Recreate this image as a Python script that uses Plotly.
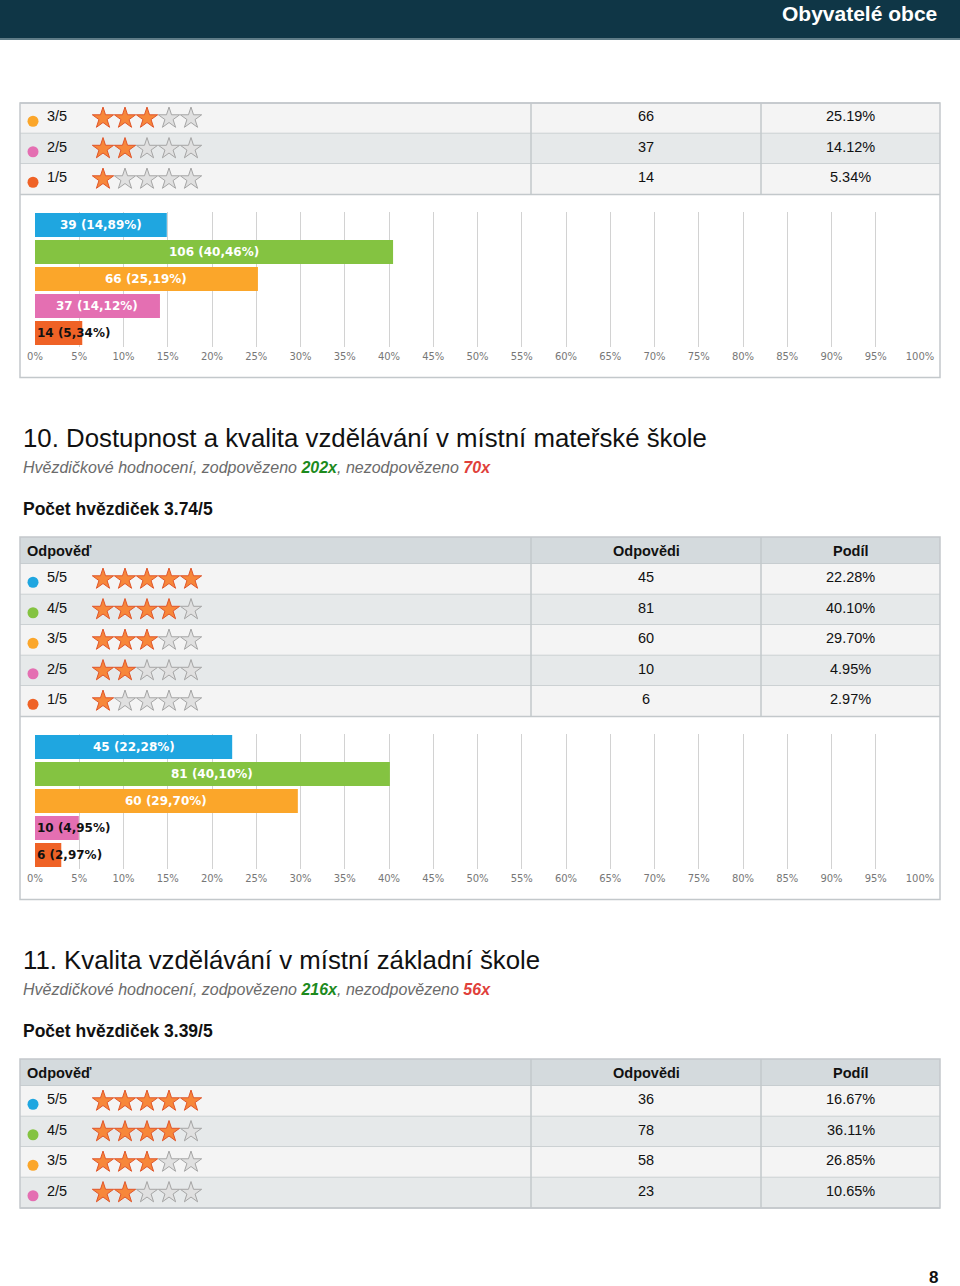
import plotly.graph_objects as go

W, H = 960, 1286

# ---------------- data ----------------
HEADER_TITLE = "Obyvatelé obce"
PAGE_NO = "8"
COL_HEADERS = ["Odpověď", "Odpovědi", "Podíl"]

# question 9 (continuation from previous page)
q9_labels = ["3/5", "2/5", "1/5"]
q9_stars = [3, 2, 1]
q9_counts = [66, 37, 14]
q9_share = ["25.19%", "14.12%", "5.34%"]
q9_bar_ratings = [5, 4, 3, 2, 1]
q9_bar_counts = [39, 106, 66, 37, 14]
q9_bar_pct = [14.89, 40.46, 25.19, 14.12, 5.34]

# question 10
q10_title = "10. Dostupnost a kvalita vzdělávání v místní mateřské škole"
q10_answered = 202
q10_unanswered = 70
q10_avg = "3.74/5"
q10_labels = ["5/5", "4/5", "3/5", "2/5", "1/5"]
q10_stars = [5, 4, 3, 2, 1]
q10_counts = [45, 81, 60, 10, 6]
q10_share = ["22.28%", "40.10%", "29.70%", "4.95%", "2.97%"]
q10_pct = [22.28, 40.10, 29.70, 4.95, 2.97]

# question 11 (continues on next page)
q11_title = "11. Kvalita vzdělávání v místní základní škole"
q11_answered = 216
q11_unanswered = 56
q11_avg = "3.39/5"
q11_labels = ["5/5", "4/5", "3/5", "2/5"]
q11_stars = [5, 4, 3, 2]
q11_counts = [36, 78, 58, 23]
q11_share = ["16.67%", "36.11%", "26.85%", "10.65%"]

RATING_COLORS = {5: "#1fa6e0", 4: "#84c341", 3: "#fba62a", 2: "#e46fb2", 1: "#ef6226"}
TICK_VALS = list(range(0, 101, 5))
TICK_TEXT = [f"{v}%" for v in TICK_VALS]

# ---------------- style ----------------
FONT = "Liberation Sans, Arial, sans-serif"
BORDER = "#c3c8cb"
HEAD_BG = "#d4dadd"
ROW_LIGHT = "#f4f4f4"
ROW_DARK = "#e6e9ea"
TL, TR = 20, 940
C1, C2 = 531, 761
ROW_H = 30.5
HEAD_H = 27
CHART_H = 183

shapes = []
annotations = []


def px(x):
    return x / W


def py(y):
    return 1 - y / H


def rect(x0, y0, x1, y1, fill="rgba(0,0,0,0)", line=None, lw=0):
    shapes.append(dict(type="rect", xref="paper", yref="paper",
                       x0=px(x0), x1=px(x1), y0=py(y1), y1=py(y0),
                       fillcolor=fill, line=dict(color=line or "rgba(0,0,0,0)", width=lw),
                       layer="below"))


def hline(y, x0, x1, color=BORDER, w=1.5):
    shapes.append(dict(type="line", xref="paper", yref="paper",
                       x0=px(x0), x1=px(x1), y0=py(y), y1=py(y),
                       line=dict(color=color, width=w), layer="below"))


def vline(x, y0, y1, color=BORDER, w=1.5):
    shapes.append(dict(type="line", xref="paper", yref="paper",
                       x0=px(x), x1=px(x), y0=py(y0), y1=py(y1),
                       line=dict(color=color, width=w), layer="below"))


def text(x, y, s, size=14.5, color="#111", bold=False, anchor="left", family=FONT, italic=False):
    if bold:
        s = f"<b>{s}</b>"
    if italic:
        s = f"<i>{s}</i>"
    annotations.append(dict(xref="paper", yref="paper", x=px(x), y=py(y), text=s,
                            showarrow=False, xanchor=anchor, yanchor="middle",
                            font=dict(family=family, size=size, color=color)))


star_x, star_y, star_fill, star_line = [], [], [], []
dot_x, dot_y, dot_c = [], [], []


def table(top, labels, stars, counts, shares, header=True, first_index=0):
    y = top
    if header:
        rect(TL, y, TR, y + HEAD_H, fill=HEAD_BG)
        text(25, y + HEAD_H / 2, COL_HEADERS[0], bold=True)
        text((C1 + C2) / 2, y + HEAD_H / 2, COL_HEADERS[1], bold=True, anchor="center")
        text((C2 + TR) / 2, y + HEAD_H / 2, COL_HEADERS[2], bold=True, anchor="center")
        hline(y + HEAD_H, TL, TR)
        y += HEAD_H
    for i, (lab, st, cnt, sh) in enumerate(zip(labels, stars, counts, shares)):
        idx = first_index + i
        rect(TL, y, TR, y + ROW_H, fill=ROW_LIGHT if idx % 2 == 0 else ROW_DARK)
        cy = y + ROW_H / 2
        text(45, cy - 2, lab)
        text((C1 + C2) / 2, cy - 2, str(cnt), anchor="center")
        text((C2 + TR) / 2, cy - 2, sh, anchor="center")
        dot_x.append(33); dot_y.append(cy + 3); dot_c.append(RATING_COLORS[st])
        for k in range(5):
            star_x.append(103 + 22 * k); star_y.append(cy)
            if k < st:
                star_fill.append("#f7873a"); star_line.append("#e0552a")
            else:
                star_fill.append("#e0e0e0"); star_line.append("#a5a5a5")
        y += ROW_H
        hline(y, TL, TR)
    vline(C1, top, y)
    vline(C2, top, y)
    return y


def frame(top, bottom):
    rect(TL, top, TR, bottom, line=BORDER, lw=1.5)


# ---------------- page header ----------------
rect(0, 0, W, 38, fill="#0f3646")
hline(39, 0, W, color="#5f7c87", w=2)
text(939, 14, HEADER_TITLE, size=21, color="white", bold=True, anchor="right")

# ---------------- question 9 ----------------
t9_top = 103
t9_bot = table(t9_top, q9_labels, q9_stars, q9_counts, q9_share, header=False, first_index=2)
hline(t9_top, TL, TR)
c9_top = t9_bot
c9_bot = c9_top + CHART_H
frame(t9_top, c9_bot)


def subtitle(ans, unans):
    return ("<i>Hvězdičkové hodnocení, zodpovězeno "
            f"<b><span style='color:#1d8a1d'>{ans}x</span></b>, nezodpovězeno "
            f"<b><span style='color:#e0403a'>{unans}x</span></b></i>")


def section(top, title, ans, unans, avg):
    annotations.append(dict(xref="paper", yref="paper", x=px(21), y=py(top), text=title,
                            showarrow=False, xanchor="left", yanchor="middle",
                            font=dict(family=FONT, size=25.8, color="#111")))
    annotations.append(dict(xref="paper", yref="paper", x=px(21), y=py(top + 29),
                            text=subtitle(ans, unans), showarrow=False, xanchor="left",
                            yanchor="middle", font=dict(family=FONT, size=16, color="#6b6b6b")))
    text(21, top + 71, f"Počet hvězdiček {avg}", size=17.5, bold=True)


# ---------------- question 10 ----------------
section(438, q10_title, q10_answered, q10_unanswered, q10_avg)
t10_top = 537
t10_bot = table(t10_top, q10_labels, q10_stars, q10_counts, q10_share)
c10_top = t10_bot
c10_bot = c10_top + CHART_H
frame(t10_top, c10_bot)

# ---------------- question 11 ----------------
section(960, q11_title, q11_answered, q11_unanswered, q11_avg)
t11_top = 1059
t11_bot = table(t11_top, q11_labels, q11_stars, q11_counts, q11_share)
frame(t11_top, t11_bot)

# page number
text(933, 1277, PAGE_NO, size=17, bold=True, color="#111", anchor="center")

# ---------------- figure ----------------
fig = go.Figure()

X0, X1 = 35, 920


def bar_chart(chart_top, ratings, counts, pct, xa, ya):
    slot_top = chart_top + 17
    slot_bot = slot_top + 135
    ys = list(range(len(counts)))
    fig.add_trace(go.Bar(x=pct, y=ys, orientation="h", width=0.89,
                         marker=dict(color=[RATING_COLORS[r] for r in ratings], line=dict(width=0)),
                         xaxis=xa, yaxis=ya, hoverinfo="skip", showlegend=False))
    for yi, c, p in zip(ys, counts, pct):
        lab = f"{c} ({p:.2f}%)".replace(".", ",")
        if p >= 10:
            annotations.append(dict(xref=xa, yref=ya, x=p / 2, y=yi, text=f"<b>{lab}</b>",
                                    showarrow=False, xanchor="center", yanchor="middle",
                                    font=dict(family="DejaVu Sans", size=12, color="white")))
        else:
            annotations.append(dict(xref=xa, yref=ya, x=0, y=yi, text=f"<b>{lab}</b>",
                                    showarrow=False, xanchor="left", yanchor="middle", xshift=0,
                                    font=dict(family="DejaVu Sans", size=12, color="#111")))
    axis_x = dict(domain=[px(X0), px(X1)], range=[0, 100], tickvals=TICK_VALS, ticktext=TICK_TEXT,
                  showgrid=True, gridcolor="#d2d2d2", gridwidth=1, zeroline=False, showline=False,
                  ticks="", tickfont=dict(family="DejaVu Sans", size=10, color="#777"),
                  fixedrange=True, automargin=False, ticklabelstandoff=2)
    axis_y = dict(domain=[py(slot_bot), py(slot_top)], range=[len(counts) - 0.5, -0.5],
                  showticklabels=False, showgrid=False, zeroline=False, showline=False,
                  fixedrange=True, automargin=False)
    return axis_x, axis_y


ax1, ay1 = bar_chart(c9_top, q9_bar_ratings, q9_bar_counts, q9_bar_pct, "x", "y")
ax2, ay2 = bar_chart(c10_top, [5, 4, 3, 2, 1], q10_counts, q10_pct, "x2", "y2")
ax1["anchor"] = "y"
ay1["anchor"] = "x"
ax2["anchor"] = "y2"
ay2["anchor"] = "x2"

# stars and colour dots on a full-page pixel overlay axis
fig.add_trace(go.Scatter(x=star_x, y=star_y, mode="markers", xaxis="x3", yaxis="y3",
                         marker=dict(symbol="star", size=16, color=star_fill,
                                     line=dict(color=star_line, width=1)),
                         hoverinfo="skip", showlegend=False))
fig.add_trace(go.Scatter(x=dot_x, y=dot_y, mode="markers", xaxis="x3", yaxis="y3",
                         marker=dict(symbol="circle", size=11, color=dot_c, line=dict(width=0)),
                         hoverinfo="skip", showlegend=False))

fig.update_layout(
    width=W, height=H,
    margin=dict(l=0, r=0, t=0, b=0),
    paper_bgcolor="white",
    plot_bgcolor="rgba(0,0,0,0)",
    showlegend=False,
    bargap=0.11,
    xaxis=ax1, yaxis=ay1,
    xaxis2=ax2, yaxis2=ay2,
    xaxis3=dict(domain=[0, 1], range=[0, W], visible=False, anchor="y3", fixedrange=True),
    yaxis3=dict(domain=[0, 1], range=[H, 0], visible=False, anchor="x3", fixedrange=True),
    shapes=shapes,
    annotations=annotations,
)

fig.write_html("out.html",
               config={"displayModeBar": False, "staticPlot": True},
               post_script="document.body.style.margin='0';document.body.style.padding='0';"
                           "document.body.style.overflow='hidden';")
